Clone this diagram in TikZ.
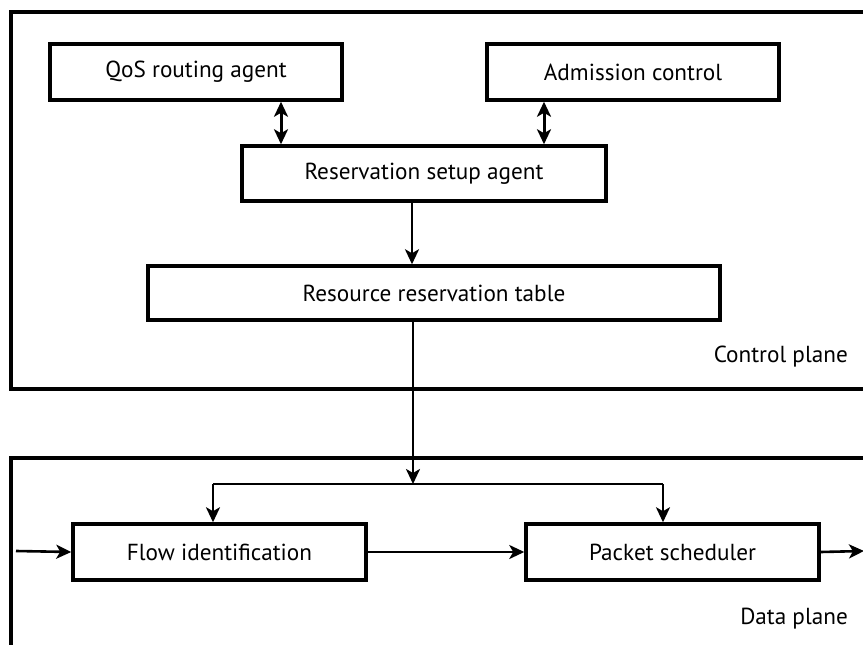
\documentclass[tikz,border=0pt]{standalone}
\usepackage{fontspec}
\setmainfont{PT Sans}
\usetikzlibrary{arrows.meta}
\tikzset{
  blk/.style={draw, line width=3.5pt, minimum height=56pt, inner sep=0pt, font=\fontsize{23.2}{26}\selectfont},
  plane/.style={draw, line width=3.5pt},
  conn/.style={line width=2.6pt, -{Stealth[length=15pt,width=14pt,inset=4pt]}},
  dconn/.style={line width=3pt, {Stealth[length=15pt,width=14pt,inset=4pt]}-{Stealth[length=15pt,width=14pt,inset=4pt]}},
  lbl/.style={font=\fontsize{23.2}{26}\selectfont, inner sep=0pt}
}
\begin{document}
\begin{tikzpicture}[x=1pt,y=-1pt]
\useasboundingbox (0,0) rectangle (863,645);
\clip (0,0) rectangle (863,645);
% planes
\draw[plane] (11,12) rectangle (880,389);
\draw[plane] (11,458) rectangle (880,670);
% blocks
\node[blk, minimum width=292pt] (qos) at (196,72) {QoS routing agent};
\node[blk, minimum width=292pt] (adm) at (633,72) {Admission control};
\node[blk, minimum width=364pt, minimum height=55pt] (rsa) at (424,173.5) {Reservation setup agent};
\node[blk, minimum width=572pt, minimum height=54pt] (rrt) at (434,293) {Resource reservation table};
\node[blk, minimum width=293pt] (fid) at (219.5,552) {Flow identification};
\node[blk, minimum width=293pt] (psch) at (672.5,552) {Packet scheduler};
% labels
\node[lbl, anchor=base east] (cpl) at (848,362) {Control plane};
\node[lbl, anchor=base east] (dpl) at (848,624) {Data plane};
% helper coordinates
\coordinate (xq) at (281,0);
\coordinate (xa) at (544,0);
\coordinate (xr) at (412,0);
\coordinate (split) at (413,484);
\coordinate (j1) at (213,484);
\coordinate (j2) at (663,484);
\coordinate (in) at (16,551);
\coordinate (out) at (864,551);
% connectors
\draw[dconn] (qos.south -| xq) -- (rsa.north -| xq);
\draw[dconn] (adm.south -| xa) -- (rsa.north -| xa);
\draw[conn] (rsa.south -| xr) -- (rrt.north -| xr);
\draw[conn] (rrt.south -| split) -- (split);
\draw[line width=2.6pt] (j1) -- (j2);
\draw[conn] (j1) -- (j1 |- fid.north);
\draw[conn] (j2) -- (j2 |- psch.north);
\draw[conn] (in) -- (fid.west);
\draw[conn] (fid.east) -- (psch.west);
\draw[conn] (psch.east) -- (out);
\end{tikzpicture}
\end{document}
